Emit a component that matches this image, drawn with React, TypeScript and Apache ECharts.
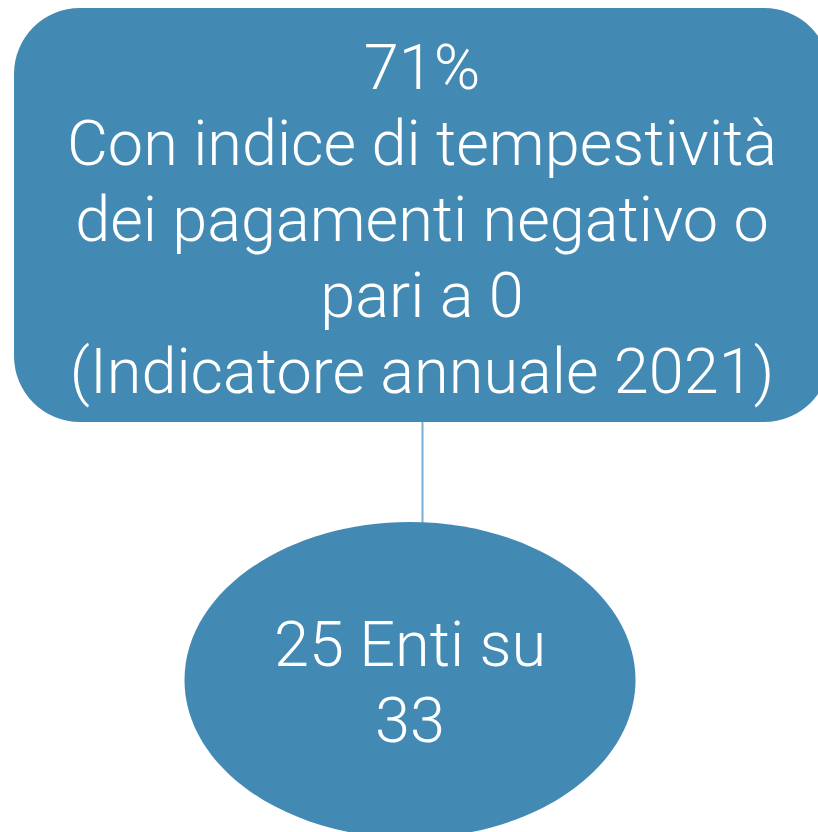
import React, { useEffect, useRef } from "react";
import * as echarts from "echarts";

const topPercent = "71%";
const topLines = [
  "Con indice di tempestività",
  "dei pagamenti negativo o",
  "pari a 0",
  "(Indicatore annuale 2021)",
];
const entiCount = 25;
const entiTotal = 33;
const bottomLines = [`${entiCount} Enti su`, `${entiTotal}`];

const FILL = "#428AB4";
const LINE = "#7BAFD3";
const FONT = "Roboto";

export default function App() {
  const ref = useRef<HTMLDivElement>(null);
  useEffect(() => {
    if (!ref.current) return;
    const chart = echarts.init(ref.current, null, { renderer: "svg" });
    const allTop = [topPercent, ...topLines];
    const lineH = 76;
    const topMid0 = 67;
    const textStyle = (text: string, x: number, y: number) => ({
      type: "text",
      x,
      y,
      style: {
        text,
        fill: "#ffffff",
        font: `300 63px ${FONT}`,
        textAlign: "center",
        textVerticalAlign: "middle",
      },
      z: 10,
    });
    const elements: any[] = [
      {
        type: "rect",
        shape: { x: 14, y: 8, width: 816, height: 414, r: 66 },
        style: { fill: FILL },
      },
      {
        type: "line",
        shape: { x1: 422.5, y1: 422, x2: 422.5, y2: 524 },
        style: { stroke: LINE, lineWidth: 2 },
      },
      {
        type: "ellipse",
        shape: { cx: 410, cy: 680, rx: 225.5, ry: 158 },
        style: { fill: FILL },
      },
      ...allTop.map((t, i) => textStyle(t, 422, topMid0 + i * lineH)),
      ...bottomLines.map((t, i) => textStyle(t, 410, 644 + i * lineH)),
    ];
    chart.setOption({
      animation: false,
      graphic: { elements },
    });
    return () => chart.dispose();
  }, []);
  return (
    <div
      ref={ref}
      style={{ position: "fixed", left: 0, top: 0, width: 818, height: 832 }}
    />
  );
}
